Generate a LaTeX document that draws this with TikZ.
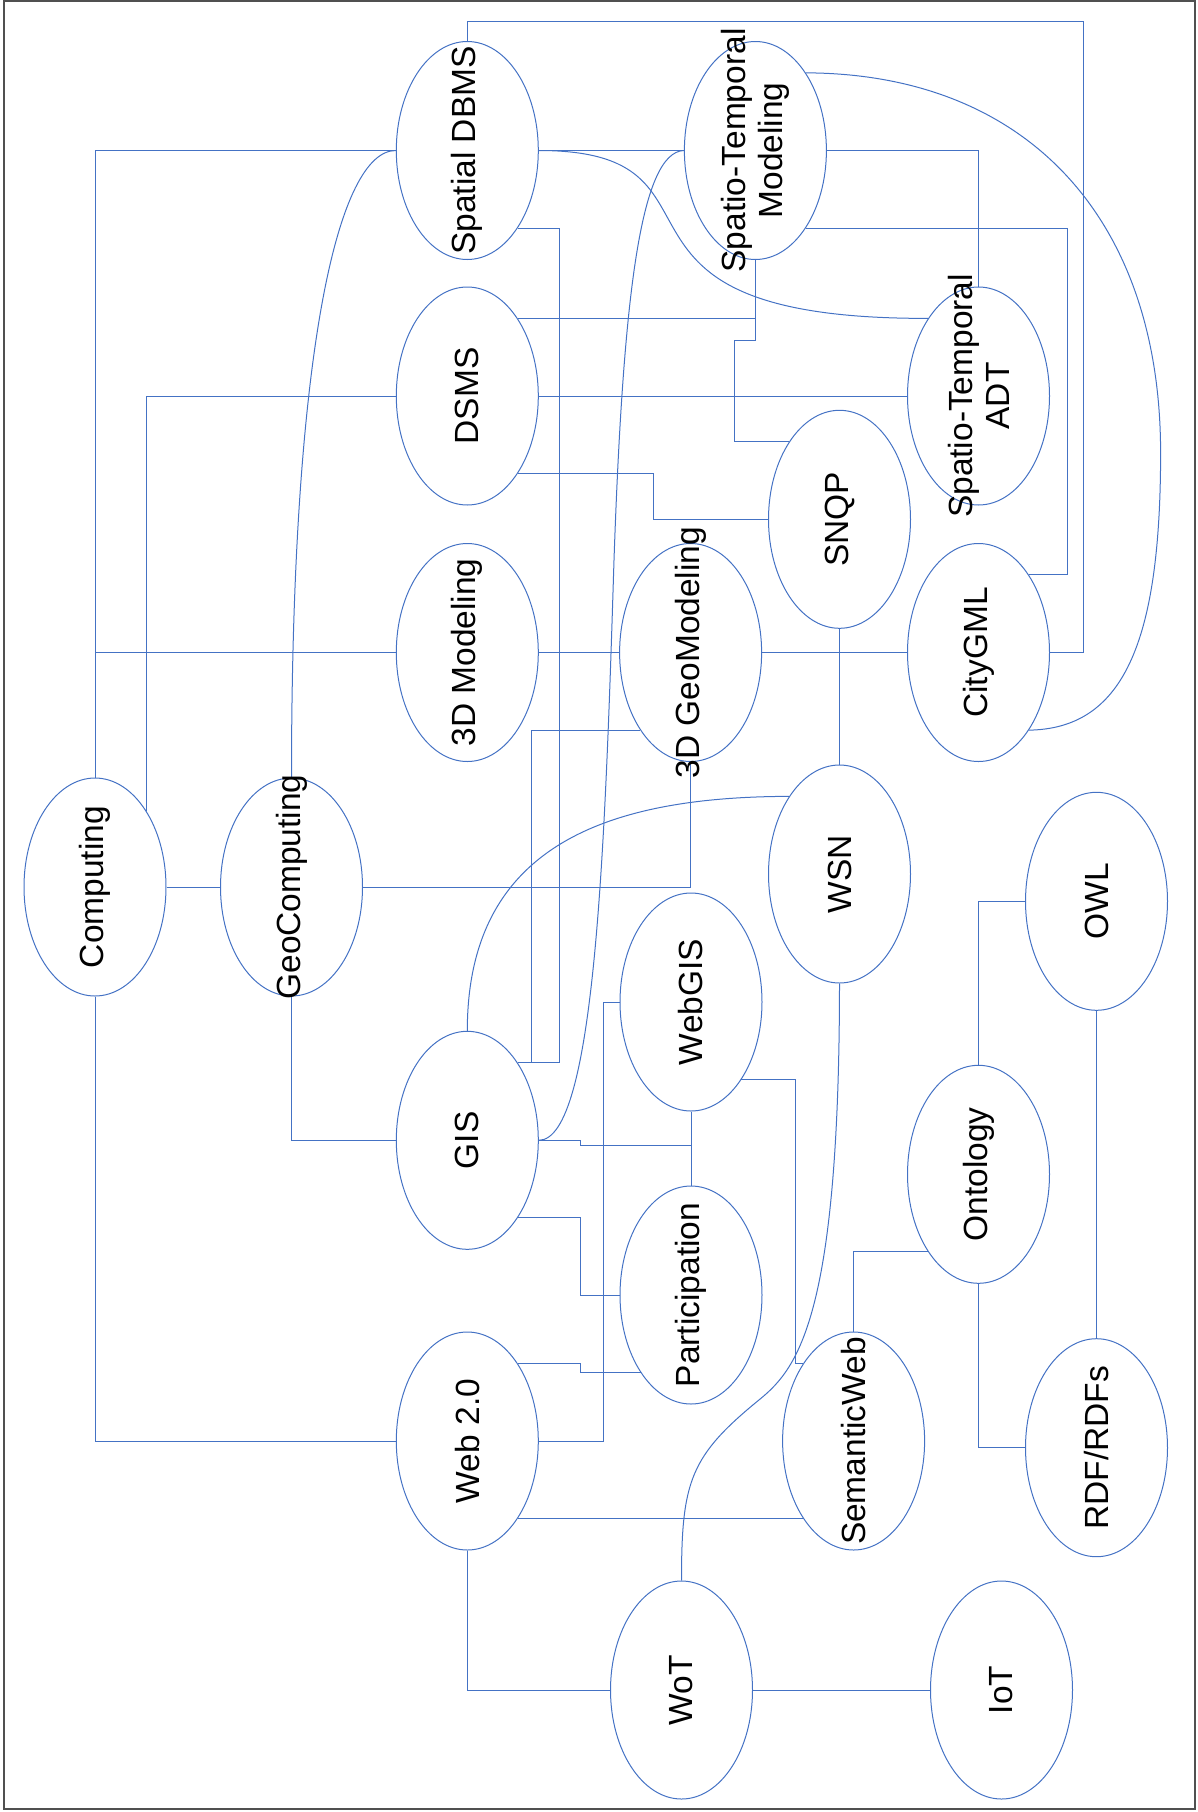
\documentclass[tikz,border=0pt]{standalone}
\usepackage{fontspec}
\setmainfont{Liberation Sans}
\usetikzlibrary{shapes.geometric}
\definecolor{lineblue}{RGB}{68,114,196}
\definecolor{framegray}{RGB}{80,80,80}
\begin{document}
\begin{tikzpicture}[x=1pt,y=-1pt,
  ell/.style={ellipse, draw=lineblue, line width=1pt, minimum width=142pt, minimum height=218pt, inner sep=0pt},
  lbl/.style={rotate=90, font=\fontsize{33.5}{37}\selectfont, align=center, inner sep=0pt, text=black},
  conn/.style={draw=lineblue, line width=1pt}]
\useasboundingbox (0,0) rectangle (1197,1812);
\draw[framegray, line width=1.5pt] (3.8,0.8) rectangle (1195,1809);
% ellipses
\node[ell] (sdbms) at (467.3,150.5) {};
\node[ell] (dsms) at (467.3,396) {};
\node[ell] (stm) at (755.4,150.5) {};
\node[ell] (stadt) at (978.5,396) {};
\node[ell] (snqp) at (839.5,519.3) {};
\node[ell] (tdmod) at (467.3,652.5) {};
\node[ell] (tdgeo) at (690.6,652.5) {};
\node[ell] (citygml) at (978.5,652.5) {};
\node[ell] (computing) at (95,887) {};
\node[ell] (geocomp) at (291.5,887) {};
\node[ell] (wsn) at (839.5,874) {};
\node[ell] (owl) at (1096.5,901.3) {};
\node[ell] (webgis) at (691,1002) {};
\node[ell] (gis) at (467.3,1140.3) {};
\node[ell] (onto) at (978.5,1174.3) {};
\node[ell] (partic) at (691,1295) {};
\node[ell] (web) at (467.3,1441) {};
\node[ell] (semweb) at (853.6,1441) {};
\node[ell] (rdf) at (1096.5,1447.7) {};
\node[ell] (wot) at (681.5,1690) {};
\node[ell] (iot) at (1001.5,1690) {};
% corner coordinates
\coordinate (topcorner) at (1083,21);
\coordinate (stjog) at (734.4,340.7);
\coordinate (dsmsjog) at (653.3,519.3);
% connectors
\draw[conn] (sdbms.north) |- (topcorner) |- (citygml.east);
\draw[conn] (computing.north) |- (sdbms.west);
\draw[conn] (computing.north) |- (tdmod.west);
\draw[conn] (computing.south) |- (web.west);
\draw[conn] (sdbms.west) .. controls (338,150.5) and (291.5,350) .. (geocomp.north);
\draw[conn] (dsms.west) -| (computing.56);
\draw[conn] (dsms.57) -| (stm.south);
\draw[conn] (stm.south) |- (stjog) |- (snqp.123);
\draw[conn] (dsms.east) -- (stadt.west);
\draw[conn] (dsms.-57) -| (dsmsjog) -- (snqp.west);
\draw[conn] (sdbms.-57) -- ++(41.3,0) |- (gis.57);
\draw[conn] (tdgeo.237) -- ++(-108.8,0) |- (gis.57);
\draw[conn] (tdmod.east) -- (tdgeo.west);
\draw[conn] (tdgeo.east) -- (citygml.west);
\draw[conn] (snqp.south) -- (wsn.north);
\draw[conn] (sdbms.east) -- (stm.west);
\draw[conn] (sdbms.east) .. controls (750.2,150.5) and (567,319.3) .. (stadt.123);
\draw[conn] (stm.west) .. controls (640,152) and (623,300) .. (614,560)
  .. controls (605,850) and (595,1140) .. (gis.east);
\draw[conn] (stm.57) .. controls (1026.2,73.5) and (1160.6,217.7) .. (1160.6,453)
  .. controls (1160.6,646) and (1121.7,728.7) .. (citygml.-57);
\draw[conn] (stm.east) -| (stadt.north);
\draw[conn] (stm.-57) -- ++(261.5,0) |- (citygml.57);
\draw[conn] (computing.east) -- (geocomp.west);
\draw[conn] (geocomp.east) -| (tdgeo.south);
\draw[conn] (geocomp.south) |- (gis.west);
\draw[conn] (gis.north) .. controls (467.3,850) and (600,796.7) .. (wsn.123);
\draw[conn] (webgis.west) -- ++(-16,0) |- (web.east);
\draw[conn] (webgis.south) -- (partic.north);
\draw[conn] (gis.east) -- ++(41.4,0) -- ++(0,4.7) -| (partic.north);
\draw[conn] (gis.-57) -- ++(62.4,0) |- (partic.west);
\draw[conn] (web.57) -- ++(62.4,0) |- (partic.237);
\draw[conn] (webgis.-57) -- ++(54.5,0) |- (semweb.123);
\draw[conn] (web.-57) -- (semweb.237);
\draw[conn] (wsn.south) .. controls (839.3,1313) and (798.8,1367.5) .. (760,1399.1)
  .. controls (690.25,1455.9) and (681.5,1480.7) .. (wot.north);
\draw[conn] (web.south) |- (wot.west);
\draw[conn] (wot.east) -- (iot.west);
\draw[conn] (owl.west) -| (onto.north);
\draw[conn] (owl.south) -- (rdf.north);
\draw[conn] (onto.south) |- (rdf.west);
\draw[conn] (onto.237) -| (semweb.north);
% labels
\node[lbl] (sdbmsT) at (sdbms) {Spatial DBMS};
\node[lbl] (dsmsT) at (dsms) {DSMS};
\node[lbl] (stmT) at (stm) {Spatio-Temporal\\Modeling};
\node[lbl] (stadtT) at (stadt) {Spatio-Temporal\\ADT};
\node[lbl] (snqpT) at (snqp) {SNQP};
\node[lbl] (tdmodT) at (tdmod) {3D Modeling};
\node[lbl] (tdgeoT) at (tdgeo) {3D GeoModeling};
\node[lbl] (citygmlT) at (citygml) {CityGML};
\node[lbl] (computingT) at (computing) {Computing};
\node[lbl] (geocompT) at (geocomp) {GeoComputing};
\node[lbl] (wsnT) at (wsn) {WSN};
\node[lbl] (owlT) at (owl) {OWL};
\node[lbl] (webgisT) at (webgis) {WebGIS};
\node[lbl] (gisT) at (gis) {GIS};
\node[lbl] (ontoT) at (onto) {Ontology};
\node[lbl] (particT) at (partic) {Participation};
\node[lbl] (webT) at (web) {Web 2.0};
\node[lbl] (semwebT) at (semweb) {SemanticWeb};
\node[lbl] (rdfT) at (rdf) {RDF/RDFs};
\node[lbl] (wotT) at (wot) {WoT};
\node[lbl] (iotT) at (iot) {IoT};
\end{tikzpicture}
\end{document}
